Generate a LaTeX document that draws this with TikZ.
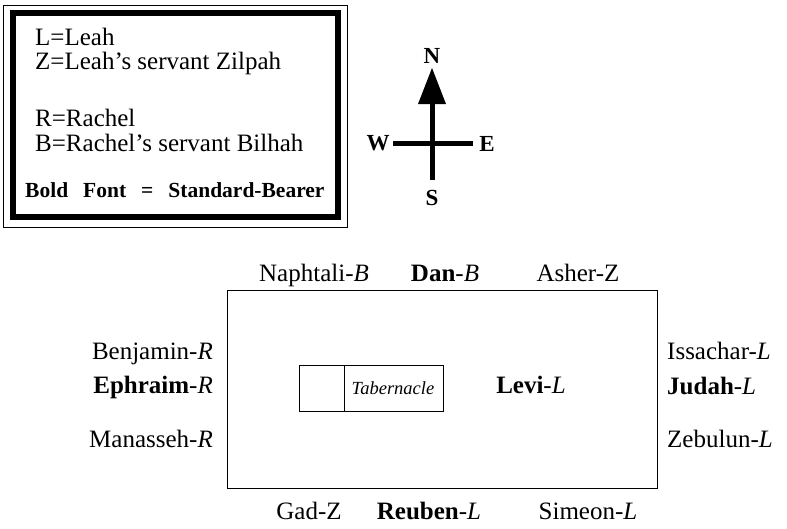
\documentclass[tikz,border=0pt]{standalone}
\usepackage{fontspec}
\usepackage{graphicx}
\setmainfont{Liberation Serif}
\begin{document}
\begin{tikzpicture}[x=1pt,y=-1pt,
  lbl/.style={inner sep=0pt, font=\fontsize{25}{28}\selectfont},
  thinline/.style={line width=1pt},
  comp/.style={line width=5pt},
  dir/.style={inner sep=0pt, font=\fontsize{23}{26}\selectfont\bfseries}]
\useasboundingbox (0,0) rectangle (787,528);
% legend
\draw[thinline] (3,5) rectangle (347,227);
\draw[line width=6pt] (13,12.5) rectangle (338,217);
\node[lbl, anchor=base west] (l1) at (35,45) {L=Leah};
\node[lbl, anchor=base west] (l2) at (35,69) {Z=Leah's servant Zilpah};
\node[lbl, anchor=base west] (l3) at (35,126) {R=Rachel};
\node[lbl, anchor=base west] (l4) at (35,151) {B=Rachel's servant Bilhah};
\node[inner sep=0pt, anchor=base west, font=\fontsize{21.5}{24}\selectfont\bfseries] (l5) at (25,197) {Bold\hspace{15pt}Font\hspace{15pt}=\hspace{15pt}Standard-Bearer};
% compass
\coordinate (ctop) at (432,103);
\coordinate (cbot) at (432,180);
\coordinate (cw) at (393,143);
\coordinate (ce) at (473,143);
\draw[comp] (cbot) -- (ctop);
\draw[comp] (cw) -- (ce);
\fill (432,68) -- (418,104) -- (446,104) -- cycle;
\node[dir] (N) at (432,56) {N};
\node[dir] (W) at (378,143) {W};
\node[dir] (E) at (487,144) {E};
\node[dir] (S) at (432,198) {S};
% camp
\draw[thinline] (227,290) rectangle (657,488);
\draw[thinline] (299,365) rectangle (443,411);
\draw[thinline] (344,365) -- (344,411);
\node[inner sep=0pt, font=\fontsize{18.5}{21}\selectfont\itshape] (tab) at (393,388) {Tabernacle};
% top
\node[lbl, anchor=base] (naph) at (314,281) {Naphtali-\textit{B}};
\node[lbl, anchor=base] (dan) at (445,281) {\textbf{Dan}-\textit{B}};
\node[lbl, anchor=base] (asher) at (578,281) {Asher-Z};
% bottom
\node[lbl, anchor=base] (gad) at (309,519) {Gad-Z};
\node[lbl, anchor=base] (reuben) at (429,519) {\textbf{Reuben}-\textit{L}};
\node[lbl, anchor=base] (simeon) at (588,519) {Simeon-\textit{L}};
% left
\node[lbl, anchor=base east] (benj) at (213,359) {Benjamin-\textit{R}};
\node[lbl, anchor=base east] (ephr) at (213,393) {\textbf{Ephraim}-\textit{R}};
\node[lbl, anchor=base east] (mana) at (213,447) {Manasseh-\textit{R}};
% right
\node[lbl, anchor=base west] (issa) at (667,359) {Issachar-\textit{L}};
\node[lbl, anchor=base west] (judah) at (667,394) {\textbf{Judah}-\textit{L}};
\node[lbl, anchor=base west] (zeb) at (667,447) {Zebulun-\textit{L}};
% center
\node[lbl, anchor=base] (levi) at (531,393) {\textbf{Levi}-\textit{L}};
\end{tikzpicture}
\end{document}
